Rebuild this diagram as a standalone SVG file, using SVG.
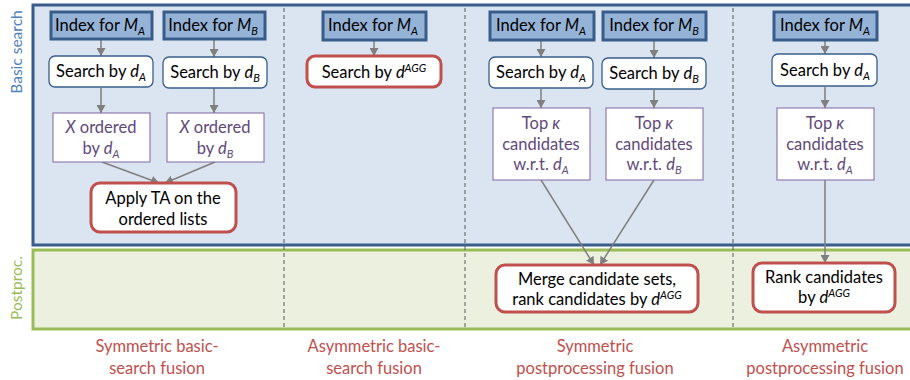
<svg xmlns="http://www.w3.org/2000/svg" width="910" height="380" viewBox="0 0 910 380">
<defs>
<style>
text{font-family:Lato,"Open Sans","Liberation Sans",sans-serif;font-size:16.5px;fill:#000}
.i{font-style:italic}
.sub{font-style:italic;font-size:11px}
.sup{font-style:italic;font-size:11px}
.idx{fill:#95b3d7;stroke:#385d8a;stroke-width:3}
.srch{fill:#fff;stroke:#385d8a;stroke-width:1.3}
.red{fill:#fff;stroke:#c0504d;stroke-width:3}
.pur{fill:#fff;stroke:#8064a2;stroke-width:1}
.pt{fill:#5f497a}
.lab{fill:#c0504d;text-anchor:middle}
.c{text-anchor:middle}
.dash{stroke:#595959;stroke-width:1;stroke-dasharray:4,3;fill:none}
.arr{stroke:#7f7f7f;stroke-width:1.5;fill:none;marker-end:url(#ah)}
</style>
<marker id="ah" markerUnits="userSpaceOnUse" markerWidth="9" markerHeight="9" refX="8" refY="4.5" orient="auto">
<path d="M0,0 L8,4.5 L0,9 z" fill="#7f7f7f"/>
</marker>
</defs>
<g id="bands">
<rect x="33" y="5" width="880" height="240" fill="#dbe5f1" stroke="#385d8a" stroke-width="3"/>
<rect x="33" y="250" width="880" height="79" fill="#ebf1de" stroke="#9bbb59" stroke-width="3"/>
<text transform="translate(22,52) rotate(-90)" class="c" style="fill:#4f81bd;font-size:15.5px">Basic search</text>
<text transform="translate(22,288) rotate(-90)" class="c" style="fill:#9bbb59;font-size:15.5px">Postproc.</text>
</g>
<g id="separators">
<line class="dash" x1="284" y1="8" x2="284" y2="327"/>
<line class="dash" x1="465" y1="8" x2="465" y2="327"/>
<line class="dash" x1="733" y1="8" x2="733" y2="327"/>
</g>
<g id="connectors">
<line class="arr" x1="101" y1="40" x2="101" y2="56"/>
<line class="arr" x1="101" y1="88" x2="101" y2="113"/>
<line class="arr" x1="214" y1="40" x2="214" y2="57"/>
<line class="arr" x1="214" y1="88" x2="214" y2="113"/>
<line class="arr" x1="102" y1="162" x2="159" y2="183"/>
<line class="arr" x1="215" y1="162" x2="165" y2="183"/>
<line class="arr" x1="374" y1="41" x2="374" y2="56"/>
<line class="arr" x1="541" y1="41" x2="541" y2="57"/>
<line class="arr" x1="541" y1="89" x2="541" y2="108"/>
<line class="arr" x1="654" y1="41" x2="654" y2="58"/>
<line class="arr" x1="654" y1="90" x2="654" y2="108"/>
<line class="arr" x1="541" y1="180" x2="594" y2="265"/>
<line class="arr" x1="654" y1="180" x2="600" y2="265"/>
<line class="arr" x1="825" y1="41" x2="825" y2="54"/>
<line class="arr" x1="825" y1="87" x2="825" y2="108"/>
<line class="arr" x1="825" y1="180" x2="825" y2="263"/>
</g>
<g id="c1-indexA"><rect class="idx" x="51" y="12" width="101" height="27"/><text x="100" y="31" class="c">Index for <tspan class="i">M</tspan><tspan class="sub" dy="4">A</tspan></text></g>
<g id="c1-indexB"><rect class="idx" x="164" y="12" width="101" height="27"/><text x="213" y="31" class="c">Index for <tspan class="i">M</tspan><tspan class="sub" dy="4">B</tspan></text></g>
<g id="c1-searchA"><rect class="srch" x="49" y="56" width="104" height="31" rx="6"/><text x="101" y="77" class="c">Search by <tspan class="i">d</tspan><tspan class="sub" dy="4">A</tspan></text></g>
<g id="c1-searchB"><rect class="srch" x="163" y="57" width="104" height="31" rx="6"/><text x="215" y="78" class="c">Search by <tspan class="i">d</tspan><tspan class="sub" dy="4">B</tspan></text></g>
<g id="c1-orderedA"><rect class="pur" x="53" y="113" width="97" height="49"/><text x="101" y="133" class="c pt"><tspan class="i">X</tspan> ordered</text><text x="101" y="154" class="c pt">by <tspan class="i">d</tspan><tspan class="sub" dy="4">A</tspan></text></g>
<g id="c1-orderedB"><rect class="pur" x="167" y="113" width="97" height="49"/><text x="215" y="133" class="c pt"><tspan class="i">X</tspan> ordered</text><text x="215" y="154" class="c pt">by <tspan class="i">d</tspan><tspan class="sub" dy="4">B</tspan></text></g>
<g id="c1-applyTA"><rect class="red" x="91" y="183" width="145" height="49" rx="9"/><text x="163" y="204" class="c">Apply TA on the</text><text x="163" y="225" class="c">ordered lists</text></g>
<g id="c2-indexA"><rect class="idx" x="323" y="12" width="103" height="28"/><text x="373" y="31" class="c">Index for <tspan class="i">M</tspan><tspan class="sub" dy="4">A</tspan></text></g>
<g id="c2-searchAGG"><rect class="red" x="307" y="56" width="134" height="31" rx="8"/><text x="374" y="78" class="c">Search by <tspan class="i">d</tspan><tspan class="sup" dy="-6">AGG</tspan></text></g>
<g id="c3-indexA"><rect class="idx" x="490" y="12" width="104" height="28"/><text x="541" y="31" class="c">Index for <tspan class="i">M</tspan><tspan class="sub" dy="4">A</tspan></text></g>
<g id="c3-indexB"><rect class="idx" x="603" y="12" width="103" height="28"/><text x="654" y="31" class="c">Index for <tspan class="i">M</tspan><tspan class="sub" dy="4">B</tspan></text></g>
<g id="c3-searchA"><rect class="srch" x="489" y="57" width="104" height="31" rx="6"/><text x="541" y="78" class="c">Search by <tspan class="i">d</tspan><tspan class="sub" dy="4">A</tspan></text></g>
<g id="c3-searchB"><rect class="srch" x="602" y="58" width="104" height="31" rx="6"/><text x="654" y="79" class="c">Search by <tspan class="i">d</tspan><tspan class="sub" dy="4">B</tspan></text></g>
<g id="c3-topA"><rect class="pur" x="493" y="108" width="97" height="72"/><text x="541" y="129" class="c pt">Top <tspan class="i">κ</tspan></text><text x="541" y="150" class="c pt">candidates</text><text x="541" y="170" class="c pt">w.r.t. <tspan class="i">d</tspan><tspan class="sub" dy="4">A</tspan></text></g>
<g id="c3-topB"><rect class="pur" x="606" y="108" width="97" height="72"/><text x="654" y="129" class="c pt">Top <tspan class="i">κ</tspan></text><text x="654" y="150" class="c pt">candidates</text><text x="654" y="170" class="c pt">w.r.t. <tspan class="i">d</tspan><tspan class="sub" dy="4">B</tspan></text></g>
<g id="c3-merge"><rect class="red" x="496" y="265" width="202" height="47" rx="9"/><text x="597" y="285" class="c">Merge candidate sets,</text><text x="597" y="305" class="c">rank candidates by <tspan class="i">d</tspan><tspan class="sup" dy="-6">AGG</tspan></text></g>
<g id="c4-indexA"><rect class="idx" x="774" y="12" width="103" height="28"/><text x="825" y="31" class="c">Index for <tspan class="i">M</tspan><tspan class="sub" dy="4">A</tspan></text></g>
<g id="c4-searchA"><rect class="srch" x="772" y="54" width="105" height="32" rx="6"/><text x="825" y="76" class="c">Search by <tspan class="i">d</tspan><tspan class="sub" dy="4">A</tspan></text></g>
<g id="c4-topA"><rect class="pur" x="777" y="108" width="97" height="72"/><text x="825" y="129" class="c pt">Top <tspan class="i">κ</tspan></text><text x="825" y="150" class="c pt">candidates</text><text x="825" y="170" class="c pt">w.r.t. <tspan class="i">d</tspan><tspan class="sub" dy="4">A</tspan></text></g>
<g id="c4-rank"><rect class="red" x="753" y="263" width="142" height="49" rx="9"/><text x="824" y="283" class="c">Rank candidates</text><text x="824" y="303" class="c">by <tspan class="i">d</tspan><tspan class="sup" dy="-6">AGG</tspan></text></g>
<g id="labels">
<text x="157" y="352" class="lab">Symmetric basic-</text><text x="157" y="374" class="lab">search fusion</text>
<text x="374" y="352" class="lab">Asymmetric basic-</text><text x="374" y="374" class="lab">search fusion</text>
<text x="595" y="352" class="lab">Symmetric</text><text x="595" y="374" class="lab">postprocessing fusion</text>
<text x="825" y="352" class="lab">Asymmetric</text><text x="825" y="374" class="lab">postprocessing fusion</text>
</g>
</svg>
